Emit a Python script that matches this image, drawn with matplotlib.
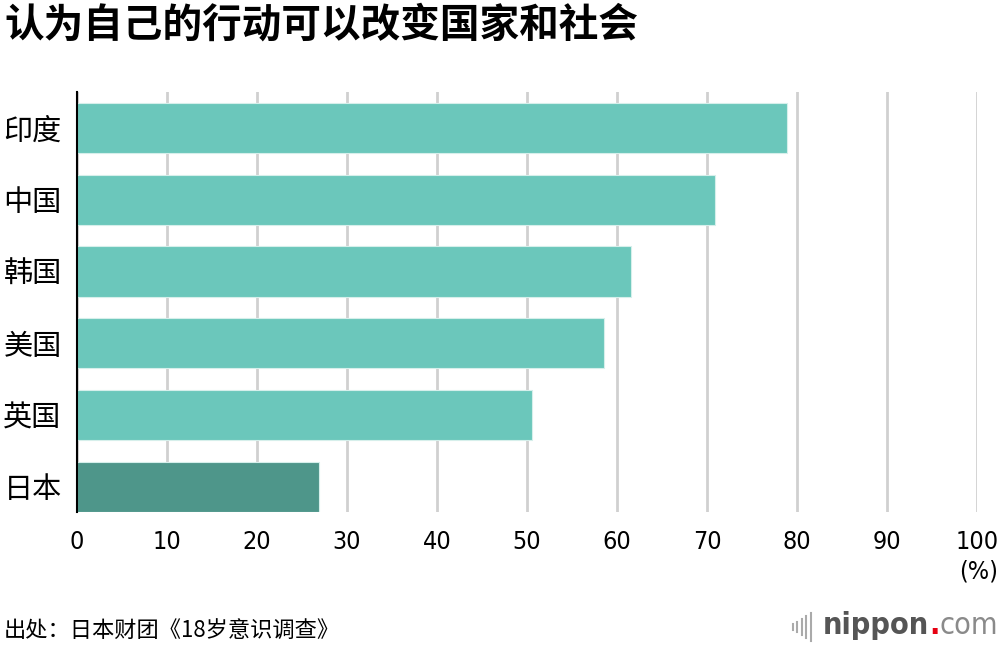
import matplotlib
matplotlib.use("Agg")
import matplotlib.pyplot as plt

plt.rcParams['font.family'] = ['Noto Sans CJK SC', 'DejaVu Sans']

title = "认为自己的行动可以改变国家和社会"
countries = ["印度", "中国", "韩国", "美国", "英国", "日本"]
values = [78.9, 70.9, 61.6, 58.6, 50.6, 26.9]
colors = ["#6bc7bb", "#6bc7bb", "#6bc7bb", "#6bc7bb", "#6bc7bb", "#4e968a"]
xticks = [0, 10, 20, 30, 40, 50, 60, 70, 80, 90, 100]
source = "出处：日本财团《18岁意识调查》"

NUMFONT = dict(family=['DejaVu Sans'], stretch='condensed')

fig = plt.figure(figsize=(10, 6.46), dpi=100)
ax = fig.add_axes([0.077, 1 - 512 / 646, 0.9, 420 / 646])

ypos = list(range(len(countries)))
ax.barh(ypos, values, height=0.7, color=colors, edgecolor="#d6efeb", linewidth=0.8, zorder=3)
ax.set_ylim(5.35, -0.5)
ax.set_xlim(0, 100)

for s in ["top", "right", "bottom"]:
    ax.spines[s].set_visible(False)
ax.spines["left"].set_color("black")
ax.spines["left"].set_linewidth(1.5)
ax.spines["left"].set_zorder(4)

ax.set_xticks(xticks)
ax.set_xticklabels([str(t) for t in xticks], fontsize=18, **NUMFONT)
ax.xaxis.grid(True, color="#d0d0d0", linewidth=2, zorder=0)
ax.set_axisbelow(True)
ax.tick_params(axis="x", length=0, pad=13, colors="black")

ax.set_yticks(ypos)
ax.set_yticklabels(countries, fontsize=21)
ax.tick_params(axis="y", length=0, pad=53)
for lab in ax.get_yticklabels():
    lab.set_horizontalalignment("left")

fig.text(0.004, 1 - 25 / 646, title, fontsize=28.5, fontweight="heavy", va="center", ha="left")
fig.text(0.998, 1 - 572 / 646, "(%)", fontsize=18, va="center", ha="right", **NUMFONT)
fig.text(0.004, 1 - 630 / 646, source, fontsize=16, va="center", ha="left")

# logo
fig.canvas.draw()
r = fig.canvas.get_renderer()
ycen = 1 - 625 / 646
t_com = fig.text(0.998, ycen, "com", fontsize=22, va="center", ha="right", color="#8a8a8a", **NUMFONT)
bb = t_com.get_window_extent(r)
x_dot = bb.x0 / 1000
t_dot = fig.text(x_dot, ycen, ".", fontsize=22, va="center", ha="right", color="#e60012",
                 fontweight="bold", **NUMFONT)
bb = t_dot.get_window_extent(r)
t_nip = fig.text(bb.x0 / 1000, ycen, "nippon", fontsize=22, va="center", ha="right", color="#555555",
                 fontweight="bold", **NUMFONT)
bb = t_nip.get_window_extent(r)
x0 = bb.x0 - 12
for i, h in enumerate([28, 22, 16, 10, 6]):
    x = (x0 - i * 4.5) / 1000
    fig.add_artist(plt.Line2D([x, x], [1 - (627 + h / 2) / 646, 1 - (627 - h / 2) / 646],
                              color="#aaaaaa", linewidth=1.5))

fig.savefig("out.png", dpi=100)
